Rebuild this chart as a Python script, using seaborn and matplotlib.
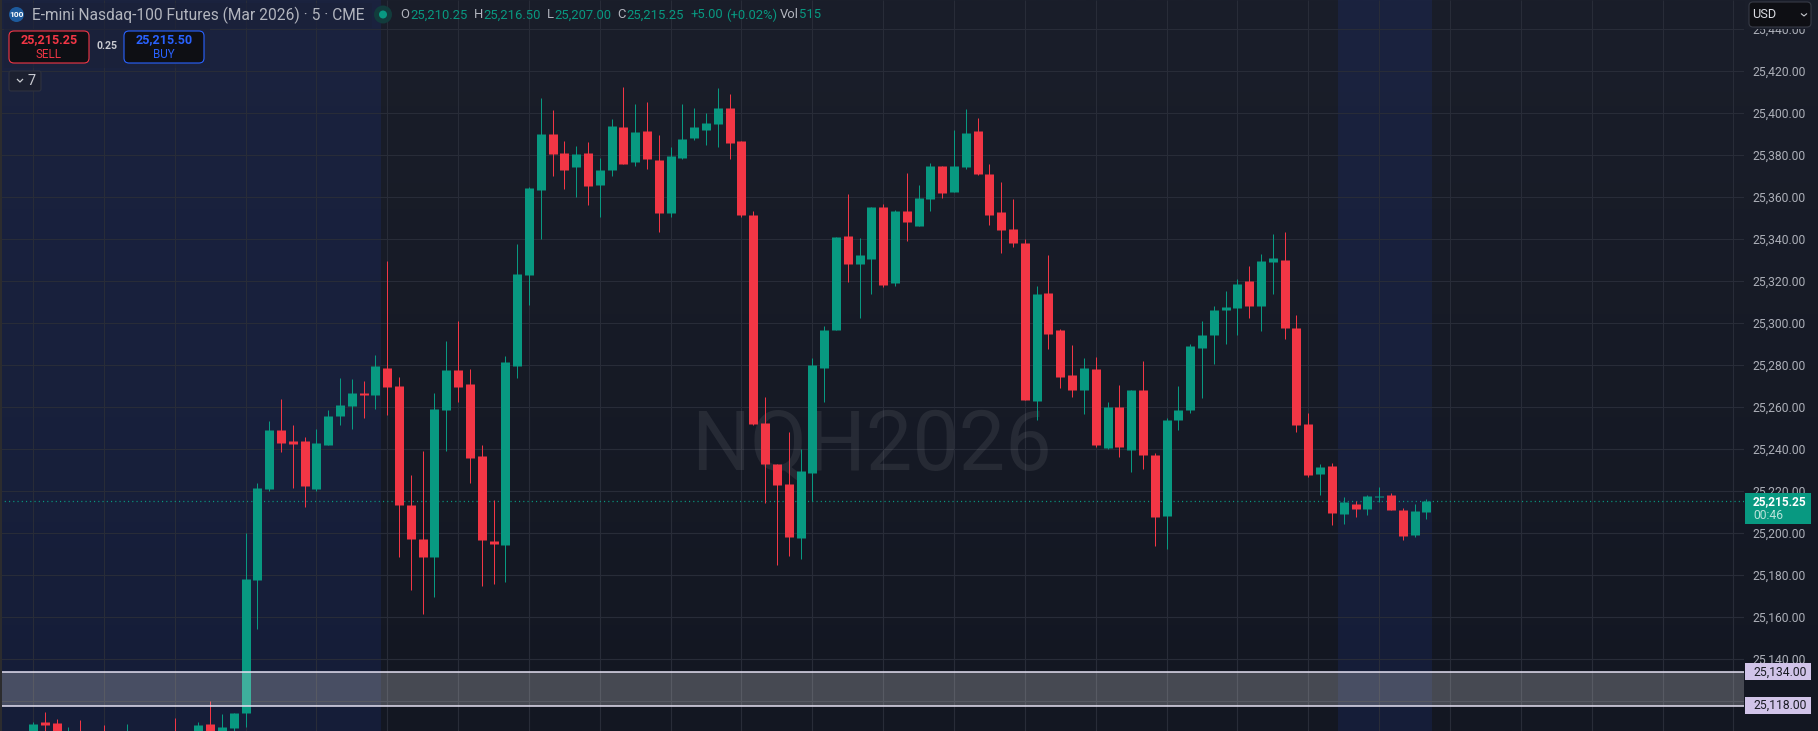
# E-mini Nasdaq-100 5 minute candles, dark chart screen
import numpy as np
import pandas as pd
import matplotlib
matplotlib.use("Agg")
import matplotlib.pyplot as plt
import seaborn as sns
from matplotlib.patches import Rectangle, FancyBboxPatch, Circle
from matplotlib.transforms import ScaledTranslation

# candle data, one value per 5 minute bar
opens = [
    25098, 25110.2, 25109.7, 25098, 25103, 25096, 25102, 25101, 25097, 25102,
    25097, 25101, 25103, 25098, 25101, 25109.2, 25103, 25107.3, 25114.4, 25177.8,
    25221.1, 25249.2, 25244.0, 25244.0, 25221.1, 25242.0, 25255.9, 25260.6, 25266.8, 25265.8,
    25278.7, 25270.2, 25213.5, 25197.3, 25188.7, 25258.7, 25277.8, 25271.1, 25236.8, 25196.3,
    25194.4, 25279.6, 25323.0, 25363.5, 25390.1, 25381.1, 25374.4, 25381.1, 25365.8, 25373.0,
    25393.5, 25376.8, 25391.6, 25377.8, 25352.5, 25378.7, 25388.2, 25392.0, 25394.9, 25402.5,
    25386.8, 25351.6, 25252.5, 25233.0, 25223.5, 25197.7, 25228.7, 25278.7, 25296.8, 25341.6,
    25328.2, 25330.6, 25355.4, 25319.2, 25353.5, 25346.3, 25359.2, 25374.9, 25362.5, 25374.4,
    25391.6, 25371.1, 25353.0, 25344.9, 25338.2, 25263.0, 25314.4, 25296.8, 25275.4, 25268.2,
    25278.2, 25240.6, 25260.1, 25239.7, 25268.2, 25237.3, 25208.2, 25253.9, 25258.7, 25288.2,
    25294.4, 25306.3, 25307.3, 25320.1, 25308.2, 25329.2, 25330.1, 25297.8, 25252.0, 25228.2,
    25232.0, 25209.2, 25214.0, 25211.6, 25217.3, 25218.2, 25211.1, 25199.2, 25210.25,
]
highs = [
    25110.2, 25114.9, 25111.6, 25107.8, 25111.1, 25104, 25108.7, 25104, 25109.2, 25105,
    25105, 25104, 25112.0, 25105, 25110.2, 25120.1, 25113.9, 25114.4, 25200.1, 25223.9,
    25253.5, 25263.9, 25251.6, 25245.9, 25249.7, 25258.7, 25273.9, 25273.5, 25272.5, 25284.9,
    25329.7, 25274.4, 25227.8, 25239.2, 25266.8, 25291.6, 25301.1, 25278.2, 25242.0, 25215.8,
    25284.4, 25337.8, 25364.9, 25407.3, 25401.6, 25386.8, 25384.4, 25386.3, 25378.7, 25397.3,
    25412.5, 25404.4, 25405.4, 25389.7, 25383.9, 25404.4, 25402.5, 25400.1, 25412.0, 25409.2,
    25386.8, 25353.5, 25264.9, 25233.0, 25248.2, 25240.1, 25283.5, 25298.7, 25341.1, 25361.6,
    25340.6, 25355.4, 25356.8, 25354.0, 25371.6, 25365.9, 25376.3, 25374.9, 25392.1, 25402.1,
    25397.8, 25375.9, 25367.3, 25359.2, 25340.1, 25317.8, 25332.5, 25297.3, 25289.7, 25283.5,
    25284.0, 25262.5, 25270.6, 25268.2, 25282.0, 25238.2, 25254.9, 25270.1, 25290.1, 25301.1,
    25308.2, 25315.4, 25321.1, 25327.3, 25333.0, 25342.5, 25343.5, 25304.0, 25257.3, 25233.0,
    25233.5, 25217.3, 25215.4, 25218.2, 25222.0, 25219.2, 25212.0, 25214.0, 25216.5,
]
lows = [
    25094, 25100, 25098, 25095, 25094, 25092, 25094, 25093, 25094, 25094,
    25095, 25094, 25095, 25096, 25098, 25098, 25100, 25103, 25107.8, 25154.4,
    25220.1, 25238.7, 25221.6, 25212.5, 25220.1, 25242.0, 25251.6, 25249.7, 25254.9, 25259.2,
    25256.3, 25188.7, 25173.0, 25161.6, 25169.7, 25239.2, 25262.5, 25223.9, 25174.9, 25175.9,
    25176.8, 25273.9, 25308.7, 25340.1, 25370.1, 25364.0, 25360.1, 25356.3, 25350.6, 25370.1,
    25375.9, 25374.9, 25373.5, 25343.5, 25350.6, 25378.2, 25387.3, 25384.9, 25384.0, 25378.2,
    25350.6, 25251.6, 25214.4, 25184.9, 25189.2, 25187.8, 25215.4, 25262.5, 25296.8, 25319.7,
    25302.5, 25314.0, 25317.3, 25317.8, 25339.2, 25346.3, 25353.5, 25359.7, 25362.5, 25373.5,
    25370.6, 25346.8, 25333.5, 25336.3, 25263.5, 25254.0, 25287.8, 25269.2, 25264.9, 25256.8,
    25241.1, 25240.1, 25236.3, 25229.2, 25230.6, 25194.0, 25192.5, 25249.2, 25257.3, 25264.4,
    25280.6, 25290.1, 25294.4, 25302.5, 25296.3, 25314.0, 25292.5, 25248.2, 25226.8, 25218.2,
    25204.0, 25204.4, 25207.8, 25208.7, 25214.9, 25211.1, 25196.8, 25198.2, 25207.0,
]
closes = [
    25109.2, 25108.7, 25101, 25102, 25098, 25101, 25097, 25098, 25103, 25098,
    25102, 25097, 25098, 25103, 25108.7, 25100, 25107.8, 25114.4, 25178.2, 25221.6,
    25249.2, 25243.0, 25242.5, 25222.5, 25243.0, 25255.9, 25261.1, 25266.8, 25265.8, 25279.7,
    25269.7, 25213.5, 25197.3, 25188.7, 25259.2, 25277.8, 25269.6, 25235.9, 25196.8, 25194.9,
    25281.6, 25323.5, 25364.4, 25390.1, 25380.6, 25373.0, 25380.6, 25365.4, 25373.0, 25393.9,
    25375.9, 25391.1, 25378.2, 25352.5, 25379.7, 25387.8, 25393.5, 25395.4, 25402.5, 25385.9,
    25351.6, 25252.0, 25233.0, 25223.0, 25198.2, 25229.6, 25280.1, 25296.8, 25341.1, 25328.2,
    25332.5, 25355.4, 25318.2, 25353.5, 25348.2, 25359.7, 25374.9, 25362.1, 25374.9, 25390.6,
    25371.1, 25351.6, 25344.4, 25338.2, 25263.5, 25314.0, 25294.9, 25274.4, 25268.2, 25278.7,
    25242.0, 25260.1, 25241.1, 25268.2, 25237.3, 25207.8, 25253.9, 25258.7, 25289.2, 25294.4,
    25306.3, 25307.8, 25318.7, 25308.2, 25329.7, 25331.1, 25297.8, 25251.6, 25227.8, 25231.6,
    25209.7, 25214.9, 25211.6, 25217.8, 25217.8, 25211.1, 25198.7, 25210.6, 25215.25,
]

price_ticks = list(range(25120, 25441, 20))
time_ticks = list(range(0, 145, 6))
last_price = 25215.25
zone_prices = [25118.00, 25134.00]
session_spans = [(-3, 29.5), (110.5, 118.5)]

GREEN = "#089981"
RED = "#F23645"
LAVENDER = "#D1C4E9"
FONT = "Roboto"

sns.set_theme(style="dark", rc={"font.family": FONT, "lines.solid_capstyle": "butt"})

# Step 1: build long tables for wicks and bodies
frame = pd.DataFrame({"bar": range(len(opens)), "open": opens, "high": highs,
                      "low": lows, "close": closes})
frame["side"] = np.where(frame["close"] >= frame["open"], "up", "down")
wicks = frame.melt(id_vars=["bar", "side"], value_vars=["low", "high"], value_name="price")
bodies = frame.melt(id_vars=["bar", "side"], value_vars=["open", "close"], value_name="price")
palette = {"up": GREEN, "down": RED}

fig = plt.figure(figsize=(18.18, 7.31), dpi=100)

# Step 2: background with soft vertical gradient
bg = fig.add_axes([0, 0, 1, 1], zorder=-1)
top_col = np.array([26, 30, 42]) / 255
bot_col = np.array([19, 23, 34]) / 255
grad = np.linspace(0, 1, 256)[:, None, None]
bg.imshow(top_col + (bot_col - top_col) * grad, aspect="auto", extent=(0, 1, 0, 1))
bg.axis("off")

# Step 3: the chart itself
ax = fig.add_axes([0, 0, 1744 / 1818, 1])
ax.patch.set_visible(False)
for spine in ax.spines.values():
    spine.set_visible(False)

for start, end in session_spans:
    ax.axvspan(start, end, color="#2A55FF", alpha=0.1, lw=0, zorder=0.2)

ax.text(71.05, 25241, "NQH2026", color="#ffffff", alpha=0.075, fontsize=59.5,
        ha="center", va="center", family=FONT, zorder=0.7)
ax.axhline(last_price, color=GREEN, lw=0.9, ls=(0, (0.9, 2.5)), zorder=1.5)

sns.lineplot(data=wicks, x="bar", y="price", hue="side", units="bar", estimator=None,
             palette=palette, linewidth=0.72, legend=False, sort=False, ax=ax,
             solid_capstyle="butt", zorder=2)
sns.lineplot(data=bodies, x="bar", y="price", hue="side", units="bar", estimator=None,
             palette=palette, linewidth=6.48, legend=False, sort=False, ax=ax,
             solid_capstyle="butt", zorder=2.1)

# zone with white edges
ax.axhspan(zone_prices[0], zone_prices[1], color="#ffffff", alpha=0.22, lw=0, zorder=3)
for p in zone_prices:
    ax.axhline(p, color="#E4E0F2", lw=1.1, zorder=3.1)

ax.set_xlim(-2.794, 144.9)
ax.set_ylim(25105.86, 25453.95)
ax.set_xticks(time_ticks)
ax.set_yticks(price_ticks)
ax.set_yticklabels([f"{p:,.2f}" for p in price_ticks])
ax.set_axisbelow(True)
ax.grid(True, color="#282C38", lw=0.8)
ax.set_xlabel("")
ax.set_ylabel("")
ax.tick_params(axis="x", labelbottom=False, length=0)
ax.tick_params(axis="y", length=0, left=False, right=False, labelleft=False, labelright=True,
               pad=6.4, labelsize=8.7, labelcolor="#ACAFB8")
nudge = ScaledTranslation(0, 1 / 100, fig.dpi_scale_trans)
for tick in ax.yaxis.get_major_ticks():
    tick.label2.set_transform(tick.label2.get_transform() + nudge)

# price labels on the right scale
side = ax.get_yaxis_transform()
label_x = 1.0006
label_w = 66 / 1744
ph = 1 / 2.1
ax.add_patch(Rectangle((label_x, last_price - 22.7 * ph), label_w, 31 * ph, transform=side,
                       color=GREEN, lw=0, clip_on=False, zorder=4))
ax.text(1.0052, last_price, f"{last_price:,.2f}", transform=side, color="white",
        fontweight="bold", fontsize=8.6, va="center", clip_on=False, zorder=5)
ax.text(1.0052, last_price - 6.6, "00:46", transform=side, color="#B9E3DA",
        fontsize=8.7, va="center", clip_on=False, zorder=5)
for p in zone_prices:
    ax.add_patch(Rectangle((label_x, p - 8.5 * ph), label_w, 17 * ph, transform=side,
                           color=LAVENDER, lw=0, clip_on=False, zorder=4))
    ax.text(1.0052, p, f"{p:,.2f}", transform=side, color="#1A1C24", fontsize=8.7,
            va="center", clip_on=False, zorder=5)

# Step 4: header and small controls, drawn in screen pixels
ui = fig.add_axes([0, 0, 1, 1], zorder=5)
ui.set_xlim(0, 1818)
ui.set_ylim(731, 0)
ui.axis("off")


def box(x0, y0, x1, y1, face, edge, radius=4, lw=0.8):
    ui.add_patch(FancyBboxPatch((x0, y0), x1 - x0, y1 - y0,
                                boxstyle=f"round,pad=0,rounding_size={radius}",
                                fc=face, ec=edge, lw=lw, mutation_aspect=1))


def label(x, y, s, color, size=9.4, ha="left", weight="normal"):
    ui.text(x, y, s, color=color, fontsize=size, ha=ha, va="center", fontweight=weight)


ui.add_patch(Rectangle((0, 0), 1.5, 731, color="#2C2C2E", lw=0))

# soft backing behind header and order buttons
ui.add_patch(Rectangle((4, 3), 368, 25, color="#1A2138", alpha=0.55, lw=0))
ui.add_patch(Rectangle((4, 28), 206, 40, color="#1A2138", alpha=0.55, lw=0))
ui.add_patch(Rectangle((1745, 0), 73, 29, color="#1A1E2A", lw=0))

ui.add_patch(Circle((16.5, 14.5), 7.5, color="#1D5A9C", lw=0))
label(16.5, 14.8, "100", "white", size=6, ha="center", weight="bold")
label(32, 15, "E-mini Nasdaq-100 Futures (Mar 2026) · 5 · CME", "#B2B5BE", size=11.2)

ui.add_patch(Circle((383, 14.5), 9, color="#123C3C", lw=0))
ui.add_patch(Circle((383, 14.5), 4, color=GREEN, lw=0))

fields = [(400, "O", 410, "25,210.25"), (473.5, "H", 483, "25,216.50"),
          (546.5, "L", 554, "25,207.00"), (617, "C", 626, "25,215.25")]
for x_key, key, x_val, val in fields:
    label(x_key, 15, key, "#B2B5BE")
    label(x_val, 15, val, GREEN)
label(690, 15, "+5.00", GREEN)
label(726, 15, "(+0.02%)", GREEN)
label(780, 15, "Vol", "#B2B5BE")
label(799, 15, "515", GREEN)

box(9, 31, 89, 63, "#0E0F14", RED, radius=5)
label(49, 40, "25,215.25", RED, size=9.1, ha="center", weight="bold")
label(49, 54, "SELL", RED, size=8.4, ha="center")
label(107, 46, "0.25", "#C8CAD0", size=7.6, ha="center", weight="bold")
box(124, 31, 204, 63, "#0E0F14", "#2962FF", radius=5)
label(164, 40, "25,215.50", "#2962FF", size=9.1, ha="center", weight="bold")
label(164, 54, "BUY", "#2962FF", size=8.4, ha="center")

box(9, 71, 41, 91, "#1C2030", "#2E3240", radius=2)
ui.plot([17, 20, 23], [79, 82, 79], color="#C8CAD0", lw=0.9)
label(28, 81, "7", "#C8CAD0", size=10.5)

box(1749, 2, 1811, 27, "#0E0F14", "#363A45", radius=4)
label(1752, 14.5, "USD", "#DADCE2", size=9.2)
ui.plot([1801, 1804, 1807], [13.5, 16, 13.5], color="#C8CAD0", lw=0.8)

fig.savefig("out.png", dpi=100, facecolor="#131722")
